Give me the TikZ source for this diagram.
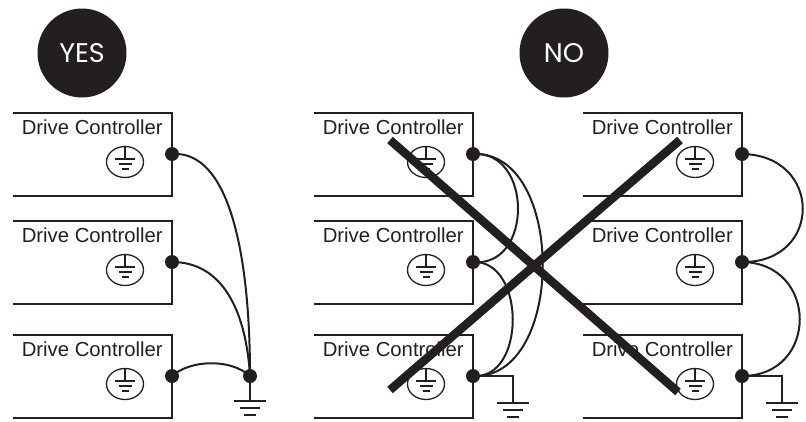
\documentclass[tikz,border=0pt]{standalone}
\usepackage{fontspec}
\setmainfont{Liberation Sans}
\newfontfamily\lblfont{Liberation Sans}
\newfontfamily\badgefont{Poppins}
\usetikzlibrary{shapes.geometric}
\definecolor{ink}{RGB}{35,31,32}
\tikzset{
  x=1pt, y=-1pt,
  boxline/.style={line width=2.4pt, draw=ink},
  wire/.style={line width=2pt, draw=ink},
  thinline/.style={line width=1.4pt, draw=ink},
  dot/.style={circle, fill=ink, inner sep=0pt, minimum size=14pt},
  lbl/.style={font=\lblfont\fontsize{20.3}{22}\selectfont, text=ink, anchor=base east, inner sep=0pt},
  gsym/.style={ellipse, draw=ink, line width=1.3pt, inner sep=0pt, minimum width=37pt, minimum height=31pt},
  strike/.style={line width=8.5pt, draw=ink},
  badge/.style={circle, fill=ink, inner sep=0pt, minimum size=89pt, text=white, font=\badgefont\fontsize{27}{29}\selectfont},
  dc/.pic={
    \draw[boxline] (-159,0) -- (0,0) -- (0,83) -- (-159,83);
    \node[lbl] (-lbl) at (-9,21) {Drive Controller};
    \node[gsym] (-sym) at (-47,49) {};
    \draw[thinline] (-sym.north) -- ++(0,13) coordinate (-b);
    \draw[thinline] ([xshift=-10pt]-b) -- ([xshift=10pt]-b);
    \draw[thinline] ([xshift=-6.5pt,yshift=-5pt]-b) -- ([xshift=6.5pt,yshift=-5pt]-b);
    \draw[thinline] ([xshift=-3.5pt,yshift=-10pt]-b) -- ([xshift=3.5pt,yshift=-10pt]-b);
    \node[dot] (-dot) at (0,41) {};
  },
  earth/.pic={
    \draw[thinline] (-16,0) -- (16,0);
    \draw[thinline] (-10,7) -- (10,7);
    \draw[thinline] (-6,14) -- (6,14);
  }
}
\begin{document}
\begin{tikzpicture}
\useasboundingbox (0,0) rectangle (806,421);
% badges
\node[badge] (yes) at (82,53) {YES};
\node[badge] (no) at (564,53) {NO};

% YES column
\pic (ya) at (172,113) {dc};
\pic (yb) at (172,221) {dc};
\pic (yc) at (172,335) {dc};
\node[dot] (yj) at (250,376) {};
\coordinate (yg) at (250,401);
\draw[wire] (ya-dot.center) .. controls (228,150) and (250,250) .. (yj.center);
\draw[wire] (yb-dot.center) .. controls (222,262) and (246,310) .. (yj.center);
\draw[wire] (yc-dot.center) .. controls (190,360) and (230,358) .. (yj.center);
\draw[thinline] (yj.center) -- (yg);
\pic at (yg) {earth};

% NO left column
\pic (la) at (473,113) {dc};
\pic (lb) at (473,221) {dc};
\pic (lc) at (473,335) {dc};
\draw[wire] (la-dot.center) .. controls (533,150) and (533,268) .. (lb-dot.center);
\draw[wire] (la-dot.center) .. controls (566,150) and (566,380) .. (lc-dot.center);
\draw[wire] (lb-dot.center) .. controls (526,260) and (526,380) .. (lc-dot.center);
\coordinate (lk) at (513,376);
\coordinate (lg) at (513,403);
\draw[thinline] (lc-dot.center) -- (lk) -- (lg);
\pic at (lg) {earth};

% NO right column
\pic (ra) at (742,113) {dc};
\pic (rb) at (742,221) {dc};
\pic (rc) at (742,335) {dc};
\draw[wire] (ra-dot.center) .. controls (823,155) and (823,263) .. (rb-dot.center);
\draw[wire] (rb-dot.center) .. controls (819,263) and (819,376) .. (rc-dot.center);
\coordinate (rk) at (782,376);
\coordinate (rg) at (782,403);
\draw[thinline] (rc-dot.center) -- (rk) -- (rg);
\pic at (rg) {earth};

% big X
\coordinate (x1a) at (390,140);
\coordinate (x1b) at (678,392);
\coordinate (x2a) at (390,390);
\coordinate (x2b) at (680,140);
\draw[strike] (x1a) -- (x1b);
\draw[strike] (x2a) -- (x2b);
\end{tikzpicture}
\end{document}
